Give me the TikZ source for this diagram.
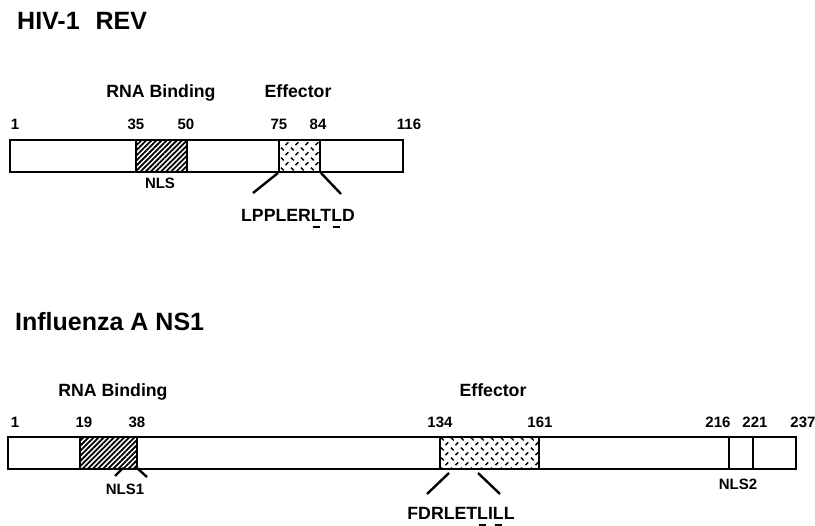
\documentclass[tikz,border=0pt]{standalone}
\usepackage{fontspec}
\setmainfont{Liberation Sans}
\usepackage{tikz}
\usetikzlibrary{patterns.meta}

\tikzdeclarepattern{
  name=weave,
  type=uncolored,
  bounding box={(0pt,0pt) and (10pt,10pt)},
  tile size={(10pt,10pt)},
  code={
    \draw[line width=1.5pt] (1pt,9pt) -- (4pt,6pt);
    \draw[line width=1.5pt] (6pt,1pt) -- (9pt,4pt);
  }
}

% short bar under a key residue
\newcommand{\keyres}[1]{\setbox0\hbox{#1}\rlap{\hbox to\wd0{\hss\rule[-6pt]{0.7\wd0}{2pt}\hss}}#1}

\tikzset{
  bar/.style={draw, line width=2pt, inner sep=0pt, minimum height=32pt, anchor=north west},
  rnabind/.style={bar, pattern={Lines[angle=45,distance=3.6pt,line width=1.8pt]}},
  effbox/.style={bar, pattern=weave},
  title/.style={font=\fontsize{25}{30}\selectfont\bfseries, inner sep=0pt, anchor=west},
  domlabel/.style={font=\fontsize{17.7}{21}\selectfont\bfseries, inner sep=0pt, anchor=base},
  resnum/.style={font=\fontsize{15}{18}\selectfont\bfseries, inner sep=0pt},
  link/.style={line width=2.4pt}
}

\begin{document}
\begin{tikzpicture}[x=1pt, y=-1pt]
  \useasboundingbox (0,0) rectangle (815,526);

  % HIV-1 REV
  \node[title] (revtitle) at (17,21) {HIV-1\hspace{16pt}REV};
  \node[domlabel] (revrnalab) at (161,98) {RNA Binding};
  \node[domlabel] (revefflab) at (298,98) {Effector};

  \node[resnum] (rev1) at (15,124) {1};
  \node[resnum] (rev35) at (136,124) {35};
  \node[resnum] (rev50) at (186,124) {50};
  \node[resnum] (rev75) at (279,124) {75};
  \node[resnum] (rev84) at (318,124) {84};
  \node[resnum] (rev116) at (409,124) {116};

  \node[bar, fill=white, minimum width=393pt] (rev) at (9,139) {};
  \node[rnabind, minimum width=51pt] (revrna) at (135,139) {};
  \node[effbox, minimum width=41pt] (reveff) at (278,139) {};

  \node[resnum] (revnls) at (160,183) {NLS};
  \node[domlabel] (revseq) at (298,222) {LPPLER\keyres{L}T\keyres{L}D};
  \coordinate (revl) at (253,193);
  \coordinate (revr) at (341,194);
  \draw[link] (reveff.south west) -- (revl);
  \draw[link] (reveff.south east) -- (revr);

  % Influenza A NS1
  \node[title] (nstitle) at (15,322) {Influenza A NS1};
  \node[domlabel] (nsrnalab) at (113,397) {RNA Binding};
  \node[domlabel] (nsefflab) at (493,397) {Effector};

  \node[resnum] (ns1) at (15,422) {1};
  \node[resnum] (ns19) at (84,422) {19};
  \node[resnum] (ns38) at (137,422) {38};
  \node[resnum] (ns134) at (440,422) {134};
  \node[resnum] (ns161) at (540,422) {161};
  \node[resnum] (ns216) at (718,422) {216};
  \node[resnum] (ns221) at (755,422) {221};
  \node[resnum] (ns237) at (803,422) {237};

  \node[bar, fill=white, minimum width=788pt] (ns) at (7,436) {};
  \node[rnabind, minimum width=57pt] (nsrna) at (79,436) {};
  \node[effbox, minimum width=99pt] (nseff) at (439,436) {};
  \node[bar, minimum width=24pt] (nsnls2) at (728,436) {};

  \node[resnum] (nsnls1lab) at (125,489) {NLS1};
  \node[resnum] (nsnls2lab) at (738,484) {NLS2};
  \coordinate (nla) at (123,468);
  \coordinate (nlb) at (115,476);
  \coordinate (nlc) at (137,468);
  \coordinate (nld) at (147,477);
  \draw[link] (nla) -- (nlb);
  \draw[link] (nlc) -- (nld);

  \node[domlabel] (nsseq) at (461,520) {FDRLET\keyres{L}I\keyres{L}L};
  \coordinate (nsa1) at (449,473);
  \coordinate (nsa2) at (427,494);
  \coordinate (nsb1) at (478,473);
  \coordinate (nsb2) at (500,494);
  \draw[link] (nsa1) -- (nsa2);
  \draw[link] (nsb1) -- (nsb2);
\end{tikzpicture}
\end{document}
